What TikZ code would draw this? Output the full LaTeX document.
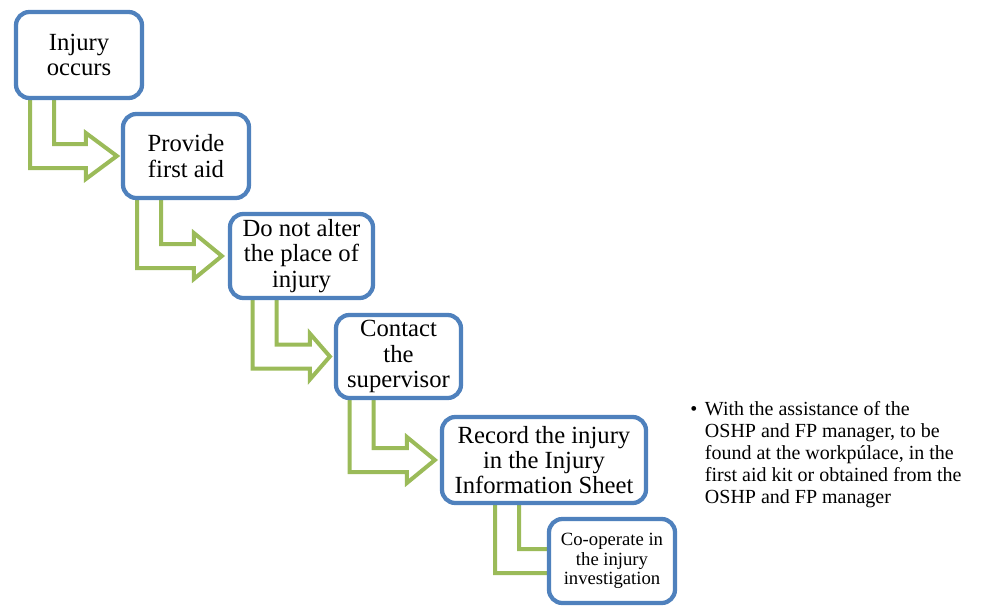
\documentclass[tikz,border=0pt]{standalone}
\usepackage{fontspec}
\setmainfont{Liberation Serif}
\usetikzlibrary{calc}
\usetikzlibrary{positioning}

\definecolor{boxblue}{RGB}{79,129,189}
\definecolor{stepgreen}{RGB}{155,187,89}

\pgfdeclarelayer{background}
\pgfsetlayers{background,main}

\tikzset{
  stepbox/.style 2 args={draw=boxblue, line width=3.2pt, fill=white,
    rounded corners=10pt, align=center, inner sep=0pt,
    minimum width=#1*0.75pt, minimum height=#2*0.75pt,
    font=\fontsize{18.5pt}{19pt}\selectfont},
  stepline/.style={draw=stepgreen, line width=3pt, line join=miter}
}

% bent arrow from one step down into the next
% #1 parent, #2 child, #3 head base offset, #4 tip offset
\newcommand{\steparrow}[4]{%
  \draw[stepline] ($(#1.south)+(-49,0)$) |- ($(#2.west)+(-#3,12)$)
    -- ++(0,11) -- ($(#2.west)+(#4,0)$) -- ($(#2.west)+(-#3,-23)$)
    -- ++(0,11) -| ($(#1.south)+(-25,0)$);
}

\begin{document}
\begin{tikzpicture}[x=0.75pt,y=-0.75pt]

\useasboundingbox (0,0) rectangle (995,607);

\node (injury) [stepbox={126}{86}] at (79,55) {Injury\\occurs};
\node (firstaid) [stepbox={126}{84}] at (186,156) {Provide\\first aid};
\node (place) [stepbox={143}{84}] at (301.5,256) {Do not alter\\the place of\\injury};
\node (contact) [stepbox={125}{83}] at (398.5,356.5) {Contact\\the\\supervisor};
\node (record) [stepbox={204}{86}] at (544,460) {Record the injury\\in the Injury\\Information Sheet};
\node (cooperate) [stepbox={126}{84}, font=\fontsize{14pt}{14.6pt}\selectfont] at (612,561) {Co-operate in\\the injury\\investigation};

% arrows behind the boxes
\begin{pgfonlayer}{background}
\steparrow{injury}{firstaid}{35}{-4}
\steparrow{firstaid}{place}{34}{-6}
\steparrow{place}{contact}{24}{-4}
\steparrow{contact}{record}{33}{-5}
\steparrow{record}{cooperate}{-8}{30}
\end{pgfonlayer}

\node (note) [anchor=north west, align=left, inner sep=0pt,
  font=\fontsize{15pt}{16.5pt}\selectfont] at (690,401)
  {\makebox[11pt][l]{\textbullet}With the assistance of the\\
   \hspace*{11pt}OSHP and FP manager, to be\\
   \hspace*{11pt}found at the workpúlace, in the\\
   \hspace*{11pt}first aid kit or obtained from the\\
   \hspace*{11pt}OSHP and FP manager};

\end{tikzpicture}
\end{document}
